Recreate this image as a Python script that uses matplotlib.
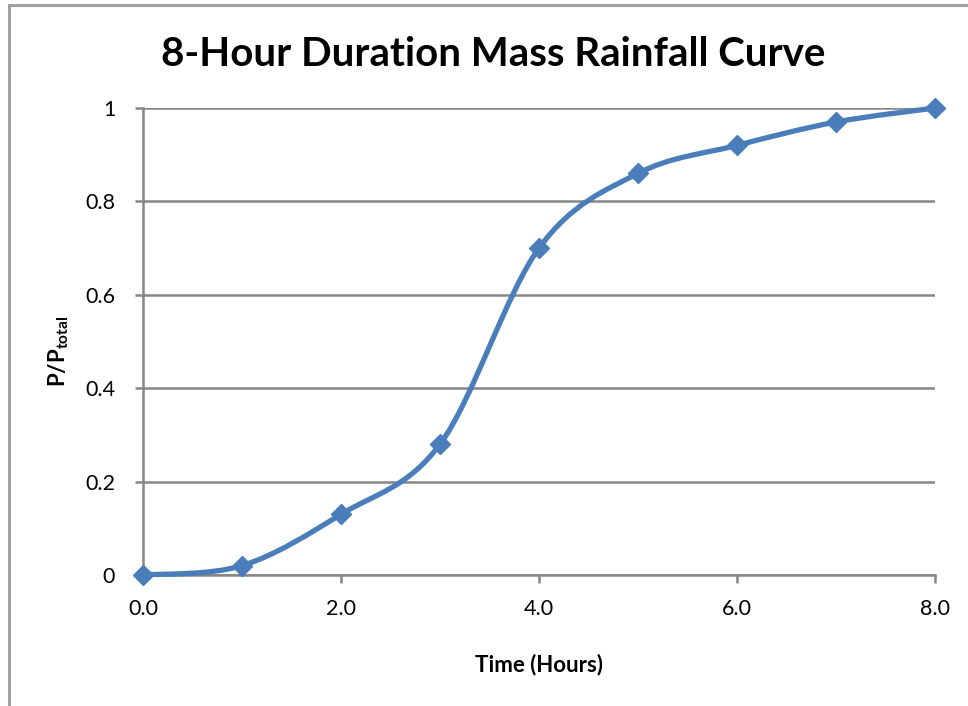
import matplotlib
matplotlib.use("Agg")
import matplotlib.pyplot as plt
import numpy as np
from matplotlib.path import Path
from matplotlib.patches import PathPatch
from matplotlib.lines import Line2D

plt.rcParams['font.family'] = ['Lato', 'DejaVu Sans']
plt.rcParams['mathtext.fontset'] = 'custom'
plt.rcParams['mathtext.bf'] = 'Lato:bold'
plt.rcParams['mathtext.rm'] = 'Lato:bold'

hours = [0, 1, 2, 3, 4, 5, 6, 7, 8]
ratio = [0.0, 0.02, 0.13, 0.28, 0.70, 0.86, 0.92, 0.97, 1.0]
x_ticks = [0, 2, 4, 6, 8]
x_tick_labels = ["0.0", "2.0", "4.0", "6.0", "8.0"]
y_ticks = [0, 0.2, 0.4, 0.6, 0.8, 1.0]
y_tick_labels = ["0", "0.2", "0.4", "0.6", "0.8", "1"]

blue = '#4A7EBB'
gray = '#868686'

fig = plt.figure(figsize=(9.68, 7.06), dpi=100)
ax = fig.add_axes([143/968, 1-575/706, (935-143)/968, (575-108)/706])

# chart-area border (top and left)
fig.add_artist(Line2D([9/968, 9/968], [0, 1-5/706], color='#A0A0A0', lw=2.2, transform=fig.transFigure))
fig.add_artist(Line2D([9/968, 1], [1-5/706, 1-5/706], color='#A0A0A0', lw=2.2, transform=fig.transFigure))

# smoothed line (Catmull-Rom style Bezier through the data points)
pts = np.column_stack([hours, ratio]).astype(float)
verts = [tuple(pts[0])]
codes = [Path.MOVETO]
n = len(pts)
for i in range(n - 1):
    p0 = pts[max(i - 1, 0)]
    p1 = pts[i]
    p2 = pts[i + 1]
    p3 = pts[min(i + 2, n - 1)]
    c1 = p1 + (p2 - p0) / 6.0
    c2 = p2 - (p3 - p1) / 6.0
    verts += [tuple(c1), tuple(c2), tuple(p2)]
    codes += [Path.CURVE4] * 3
ax.add_patch(PathPatch(Path(verts, codes), fill=False, edgecolor=blue, lw=3.8,
                       capstyle='round', joinstyle='round', zorder=3, clip_on=False))
ax.plot(hours, ratio, linestyle='none', marker='D', markersize=10, color=blue,
        markeredgecolor=blue, zorder=4, clip_on=False)

ax.set_xlim(0, 8)
ax.set_ylim(0, 1)
ax.set_xticks(x_ticks)
ax.set_xticklabels(x_tick_labels)
ax.set_yticks(y_ticks)
ax.set_yticklabels(y_tick_labels)
ax.grid(axis='y', color=gray, lw=1.8)
ax.set_axisbelow(True)
for s in ['top', 'right']:
    ax.spines[s].set_visible(False)
for s in ['left', 'bottom']:
    ax.spines[s].set_color(gray)
    ax.spines[s].set_linewidth(1.8)
ax.tick_params(axis='both', colors=gray, length=6, width=1.8, labelsize=15.5,
               labelcolor='black')
ax.tick_params(axis='x', pad=11)
ax.tick_params(axis='y', pad=14)

fig.text(493/968, 1-55/706, '8-Hour Duration Mass Rainfall Curve', fontsize=29,
         fontweight='bold', ha='center', va='center')
ax.set_xlabel('Time (Hours)', fontsize=16, fontweight='bold', labelpad=25)
ax.set_ylabel(r'P/P$_{\mathbf{total}}$', fontsize=16, fontweight='bold', va='center')
ax.yaxis.set_label_coords((59 - 143) / 792, (575 - 351) / 467)

fig.savefig('out.png', dpi=100, facecolor='white')
